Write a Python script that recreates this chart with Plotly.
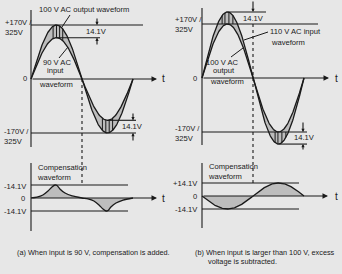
import numpy as np
import plotly.graph_objects as go

W, H = 342, 274

# ---------------- data ----------------
angle = np.arange(0, 361, 2)          # degrees over one AC cycle
output_peak = 170.0                   # 100 V AC output, peak on the ±170 V / 325 V line
input_peak_a = 130.0                  # (a) 90 V AC input peak (as drawn)
input_peak_b = 208.0                  # (b) 110 V AC input peak (as drawn)
comp_peak = 14.1                      # compensation amplitude

# (a) compensation waveform
comp_a_angle = [0, 21, 42, 60, 74, 85, 92, 102, 120, 145, 180,
                201, 222, 240, 254, 265, 272, 282, 300, 325, 360]
comp_a_value = [0, 1.0, 3.3, 7.6, 12.0, 14.1, 13.6, 9.8, 5.4, 2.2, 0,
                -1.0, -3.3, -7.6, -12.0, -14.1, -13.6, -9.8, -5.4, -2.2, 0]

# hatch positions (degrees) near the peaks
hatch_a_top = [78, 90, 101, 112]
hatch_a_bot = [252, 264, 276, 288]
hatch_b_top = [71, 81, 95, 109]
hatch_b_bot = [258, 268, 282, 296]

upper_labels = ["+170V /<br>325V", "0", "-170V /<br>325V"]
lower_labels_a = ["-14.1V", "0", "-14.1V"]
lower_labels_b = ["+14.1V", "0", "-14.1V"]

# ---------------- layout helpers ----------------
def lin(p, p0, v0, p1, v1):
    return v0 + (p - p0) * (v1 - v0) / (p1 - p0)

panels = {
    1: dict(box=(0, 171, 0, 150), xm=(31, 0, 133, 360), ym=(79, 0, 25, 170)),
    2: dict(box=(0, 171, 150, 240), xm=(31, 0, 133, 360), ym=(198, 0, 185, 14.1)),
    3: dict(box=(171, 342, 0, 150), xm=(202, 0, 304, 360), ym=(78, 0, 24, 170)),
    4: dict(box=(171, 342, 150, 240), xm=(202, 0, 304, 360), ym=(196, 0, 183, 14.1)),
}

def X(i, px):
    return lin(px, *panels[i]["xm"])

def Y(i, py):
    return lin(py, *panels[i]["ym"])

def ref(i):
    return ("x" if i == 1 else f"x{i}"), ("y" if i == 1 else f"y{i}")

def P(px, py):
    return px / W, 1 - py / H

INK = "#1a1a1a"
FILL = "#bdbdbd"
BG = "#e7e7e7"
FONT = "Liberation Sans, Arial, sans-serif"
LW = 1.3

fig = go.Figure()

def sine(amp):
    return amp * np.sin(np.radians(angle))

def add(i, **kw):
    xr, yr = ref(i)
    fig.add_trace(go.Scatter(xaxis=xr, yaxis=yr, showlegend=False, hoverinfo="skip", **kw))

# (a) upper: input 90 V (inner) and output 100 V (outer)
add(1, x=angle, y=sine(input_peak_a), mode="lines", line=dict(color=INK, width=LW))
add(1, x=angle, y=sine(output_peak), mode="lines", line=dict(color=INK, width=LW),
    fill="tonexty", fillcolor=FILL)
hx, hy = [], []
for a in hatch_a_top + hatch_a_bot:
    s = np.sin(np.radians(a))
    hx += [a, a, None]
    hy += [input_peak_a * s, output_peak * s, None]
add(1, x=hx, y=hy, mode="lines", line=dict(color=INK, width=1))

# (b) upper: output 100 V (inner) and input 110 V (outer)
add(3, x=angle, y=sine(output_peak), mode="lines", line=dict(color=INK, width=LW))
add(3, x=angle, y=sine(input_peak_b), mode="lines", line=dict(color=INK, width=LW),
    fill="tonexty", fillcolor=FILL)
hx, hy = [], []
for a in hatch_b_top + hatch_b_bot:
    s = np.sin(np.radians(a))
    hx += [a, a, None]
    hy += [output_peak * np.sign(s), input_peak_b * s, None]
add(3, x=hx, y=hy, mode="lines", line=dict(color=INK, width=1))

# compensation waveforms
add(2, x=comp_a_angle, y=comp_a_value, mode="lines",
    line=dict(color=INK, width=LW, shape="spline", smoothing=0.6),
    fill="tozeroy", fillcolor=FILL)
add(4, x=angle, y=-comp_peak * np.sin(np.radians(angle)), mode="lines",
    line=dict(color=INK, width=LW), fill="tozeroy", fillcolor=FILL)

# ---------------- axes ----------------
layout_axes = {}
for i, p in panels.items():
    x0, x1, y0, y1 = p["box"]
    key = "" if i == 1 else str(i)
    layout_axes[f"xaxis{key}"] = dict(domain=[x0 / W, x1 / W], range=[X(i, x0), X(i, x1)],
                                      visible=False, fixedrange=True,
                                      anchor=("y" if i == 1 else f"y{i}"))
    layout_axes[f"yaxis{key}"] = dict(domain=[1 - y1 / H, 1 - y0 / H], range=[Y(i, y1), Y(i, y0)],
                                      visible=False, fixedrange=True,
                                      anchor=("x" if i == 1 else f"x{i}"))

shapes = []
annotations = []

def hline(i, v, a0, a1, dash="solid"):
    xr, yr = ref(i)
    shapes.append(dict(type="line", xref=xr, yref=yr, x0=a0, x1=a1, y0=v, y1=v,
                       line=dict(color=INK, width=1.1, dash=dash)))

def vline(i, a, v0, v1, dash="solid", w=1.1):
    xr, yr = ref(i)
    shapes.append(dict(type="line", xref=xr, yref=yr, x0=a, x1=a, y0=v0, y1=v1,
                       line=dict(color=INK, width=w, dash=dash)))

def arrow(i, x, y, ax, ay, size=0.9, head=2):
    xr, yr = ref(i)
    annotations.append(dict(xref=xr, yref=yr, axref=xr, ayref=yr, x=x, y=y, ax=ax, ay=ay,
                            text="", showarrow=True, arrowhead=head, arrowsize=size,
                            arrowwidth=1.1, arrowcolor=INK))

def text(px, py, s, size=7.6, xanchor="center", align="center"):
    x, y = P(px, py)
    annotations.append(dict(xref="paper", yref="paper", x=x, y=y, text=s, showarrow=False,
                            xanchor=xanchor, yanchor="middle", align=align,
                            font=dict(family=FONT, size=size, color=INK)))

def seg(px0, py0, px1, py1):
    a, b = P(px0, py0)
    c, d = P(px1, py1)
    shapes.append(dict(type="line", xref="paper", yref="paper", x0=a, y0=b, x1=c, y1=d,
                       line=dict(color=INK, width=1)))

# ---- panel (a) upper ----
vline(1, 0, Y(1, 10), Y(1, 147))
hline(1, output_peak, 0, X(1, 143))
hline(1, -output_peak, 0, X(1, 136))
hline(1, input_peak_a, 90, X(1, 100))
hline(1, -input_peak_a, 270, X(1, 136))
arrow(1, X(1, 157), 0, 0, 0, size=1.0)
arrow(1, X(1, 97), output_peak, X(1, 97), Y(1, 17), size=0.6)
arrow(1, X(1, 97), input_peak_a, X(1, 97), Y(1, 46), size=0.6)
arrow(1, X(1, 133), -input_peak_a, X(1, 133), Y(1, 112), size=0.6)
arrow(1, X(1, 133), -output_peak, X(1, 133), Y(1, 142), size=0.6)
vline(1, 180, 0, Y(1, 150), dash="dot")

# ---- panel (a) lower ----
vline(2, 0, Y(2, 163), Y(2, 231))
hline(2, comp_peak, 0, X(2, 128))
hline(2, -comp_peak, 0, X(2, 128))
arrow(2, X(2, 157), 0, 0, 0, size=1.0)
vline(2, 180, Y(2, 150), comp_peak, dash="dot")

# ---- panel (b) upper ----
vline(3, 0, Y(3, 8), Y(3, 145))
hline(3, output_peak, 0, X(3, 318))
hline(3, -output_peak, 0, X(3, 307))
hline(3, input_peak_b, 90, X(3, 266))
hline(3, -input_peak_b, 270, X(3, 307))
arrow(3, X(3, 329), 0, 0, 0, size=1.0)
arrow(3, 180, input_peak_b, 180, Y(3, 0), size=0.6)
arrow(3, X(3, 303), -output_peak, X(3, 303), Y(3, 121), size=0.6)
arrow(3, X(3, 303), -input_peak_b, X(3, 303), Y(3, 151), size=0.6)
vline(3, 180, output_peak, Y(3, 150), dash="dot")

# ---- panel (b) lower ----
vline(4, 0, Y(4, 163), Y(4, 228))
hline(4, comp_peak, 0, X(4, 299))
hline(4, -comp_peak, 0, X(4, 299))
arrow(4, X(4, 328), 0, 0, 0, size=1.0)
vline(4, 180, Y(4, 150), comp_peak, dash="dot")

# ---------------- texts ----------------
text(3, 27, upper_labels[0], xanchor="left", align="left")
text(25, 79, upper_labels[1])
text(2, 136, upper_labels[2], xanchor="left", align="left")
text(173, 24, upper_labels[0], xanchor="left", align="left")
text(195, 78, upper_labels[1])
text(173, 133, upper_labels[2], xanchor="left", align="left")

text(29, 186, lower_labels_a[0], xanchor="right")
text(27, 198, lower_labels_a[1], xanchor="right")
text(29, 211, lower_labels_a[2], xanchor="right")
text(200, 183, lower_labels_b[0], xanchor="right")
text(199, 196, lower_labels_b[1], xanchor="right")
text(200, 209, lower_labels_b[2], xanchor="right")

text(163, 79, "t", size=10)
text(163, 198, "t", size=10)
text(336, 78, "t", size=10)
text(336, 196, "t", size=10)

text(84, 10, "100 V AC output waveform")
seg(70, 15, 62, 27)
text(96, 32, "14.1V")
text(57, 62, "90 V AC")
text(55, 71, "input")
text(56, 84, "waveform")
seg(59, 58, 68, 47)
text(132, 127, "14.1V")

text(253, 18, "14.1V")
text(268, 32, "110 V AC input", xanchor="left")
text(269, 43, "waveform", xanchor="left")
seg(268, 32, 244, 40)
text(222, 62, "100 V AC")
text(224, 71, "output")
text(227, 82, "waveform")
seg(231, 57, 243, 48)
text(304, 137, "14.1V")

text(35, 172, "Compensation<br>waveform", xanchor="left", align="left")
text(206, 171, "Compensation<br>waveform", xanchor="left", align="left")

text(15, 252, "(a) When input is 90 V, compensation is added.", size=7.3, xanchor="left")
text(193, 252, "(b) When input is larger than 100 V, excess", size=7.3, xanchor="left")
text(206, 261, "voltage is subtracted.", size=7.3, xanchor="left")

fig.update_layout(width=W, height=H, margin=dict(l=0, r=0, t=0, b=0),
                  paper_bgcolor=BG, plot_bgcolor=BG, showlegend=False,
                  shapes=shapes, annotations=annotations, **layout_axes)

fig.write_html("out.html", config=dict(displayModeBar=False))
